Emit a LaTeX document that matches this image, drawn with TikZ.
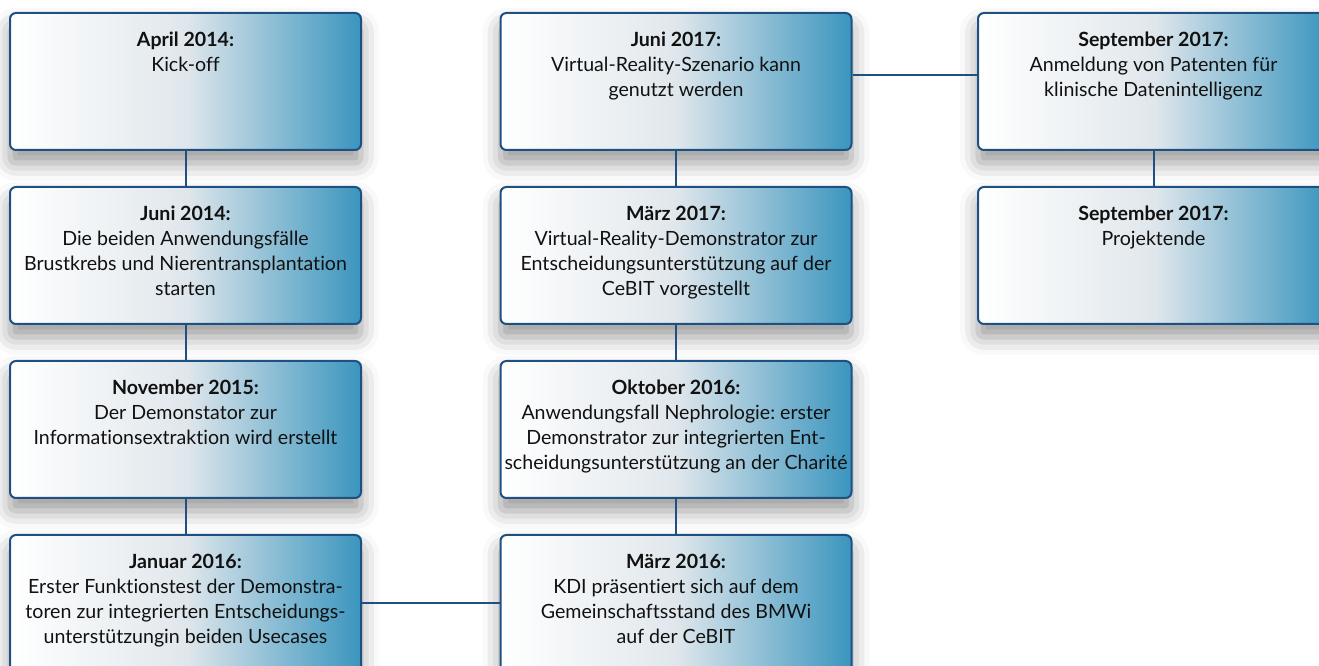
\documentclass[tikz,border=0pt]{standalone}
\usepackage{fontspec}
\setmainfont{Lato}[Ligatures=NoCommon]
\usetikzlibrary{positioning, shadows.blur}

\definecolor{kdiblue}{HTML}{1F5082}
\definecolor{kdiright}{HTML}{3A95BE}
\definecolor{kdimid}{HTML}{E0E7EC}
\definecolor{kditext}{HTML}{111111}

\newcommand{\evtext}[2]{\parbox[t][99pt][t]{345pt}{\centering\frenchspacing\color{kditext}\fontsize{19.6}{25}\selectfont\textbf{#1}\\#2}}

\tikzset{
  evbox/.style={draw=kdiblue, line width=2pt, rounded corners=6pt,
    minimum width=351pt, minimum height=137pt, inner xsep=3pt, inner ysep=18.5pt,
    left color=white, right color=kdiright, middle color=kdimid,
    blur shadow={shadow xshift=0pt, shadow yshift=-13pt,
      shadow blur radius=18pt, shadow opacity=40}},
  link/.style={draw=kdiblue, line width=2pt}
}

\begin{document}
\begin{tikzpicture}[x=1pt, y=1pt]
\useasboundingbox (0,0) rectangle (1319,666);

% Spalte 1
\node[evbox] (apr14) at (185.5,584.5) {\evtext{April 2014:}{Kick-off}};
\node[evbox] (jun14) at (185.5,410.5) {\evtext{Juni 2014:}{Die beiden Anwendungsfälle\\Brustkrebs und Nierentransplantation\\starten}};
\node[evbox] (nov15) at (185.5,236.5) {\evtext{November 2015:}{Der Demonstator zur\\Informationsextraktion wird erstellt}};
\node[evbox] (jan16) at (185.5,62.5) {\evtext{Januar 2016:}{Erster Funktionstest der Demonstra-\\toren zur integrierten Entscheidungs-\\unterstützungin beiden Usecases}};

% Spalte 2
\node[evbox] (jun17) at (676,584.5) {\evtext{Juni 2017:}{Virtual-Reality-Szenario kann\\genutzt werden}};
\node[evbox] (mar17) at (676,410.5) {\evtext{März 2017:}{Virtual-Reality-Demonstrator zur\\Entscheidungsunterstützung auf der\\CeBIT vorgestellt}};
\node[evbox] (okt16) at (676,236.5) {\evtext{Oktober 2016:}{Anwendungsfall Nephrologie: erster\\Demonstrator zur integrierten Ent-\\scheidungsunterstützung an der Charité}};
\node[evbox] (mar16) at (676,62.5) {\evtext{März 2016:}{KDI präsentiert sich auf dem\\Gemeinschaftsstand des BMWi\\auf der CeBIT}};

% Spalte 3
\node[evbox] (sep17a) at (1153.5,584.5) {\evtext{September 2017:}{Anmeldung von Patenten für\\klinische Datenintelligenz}};
\node[evbox] (sep17b) at (1153.5,410.5) {\evtext{September 2017:}{Projektende}};

% Verbindungen
\draw[link] (apr14) -- (jun14);
\draw[link] (jun14) -- (nov15);
\draw[link] (nov15) -- (jan16);
\draw[link] (jan16) -- (mar16);
\draw[link] (mar16) -- (okt16);
\draw[link] (okt16) -- (mar17);
\draw[link] (mar17) -- (jun17);
\draw[link] ([yshift=6.5pt]jun17.east) -- ([yshift=6.5pt]sep17a.west);
\draw[link] (sep17a) -- (sep17b);
\end{tikzpicture}
\end{document}
